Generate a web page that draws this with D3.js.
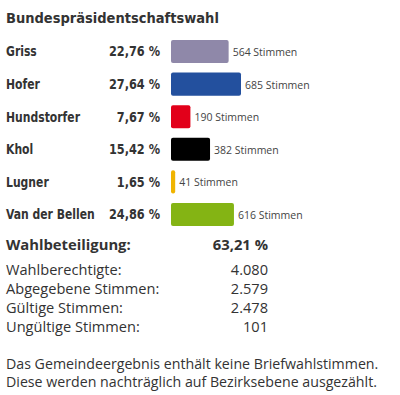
<!DOCTYPE html>
<html>
<head>
<meta charset="utf-8">
<script src="https://d3js.org/d3.v7.min.js"></script>
<style>
body { margin: 0; background: #fff; }
svg text { fill: #333; }
.cond { font-family: 'DejaVu Sans Condensed', 'DejaVu Sans', sans-serif; font-weight: bold; }
.reg { font-family: 'Open Sans', sans-serif; }
</style>
</head>
<body>
<svg width="400" height="395"></svg>
<script>
const candidates = ['Griss', 'Hofer', 'Hundstorfer', 'Khol', 'Lugner', 'Van der Bellen']
const percents = ['22,76 %', '27,64 %', '7,67 %', '15,42 %', '1,65 %', '24,86 %']
const votes = [564, 685, 190, 382, 41, 616]
const colors = ['#8f88a9', '#23509e', '#e2001a', '#000000', '#f0b400', '#84b414']

const statLabels = ['Wahlberechtigte:', 'Abgegebene Stimmen:', 'Gültige Stimmen:', 'Ungültige Stimmen:']
const statValues = ['4.080', '2.579', '2.478', '101']
const turnout = '63,21 %'
const notes = ['Das Gemeindeergebnis enthält keine Briefwahlstimmen.',
  'Diese werden nachträglich auf Bezirksebene ausgezählt.']

const svg = d3.select('svg')

svg.append('text').attr('class', 'cond')
  .attr('x', 6).attr('y', 23)
  .style('font-size', '14.5px')
  .text('Bundespräsidentschaftswahl')

const y = d3.scaleBand().domain(candidates).range([40, 226]).paddingInner(9 / 31).paddingOuter(0)
const x = d3.scaleLinear().domain([0, 685]).range([171, 241])

// names and percents squeezed a bit, the original font is narrower
const names = svg.append('g').attr('transform', 'translate(6,0) scale(0.86,1)')
names.selectAll('text').data(candidates).enter().append('text').attr('class', 'cond')
  .attr('x', 0).attr('y', d => y(d) + 16.5)
  .style('font-size', '14px')
  .text(d => d)

const pcts = svg.append('g').attr('transform', 'translate(160,0) scale(0.9,1)')
pcts.selectAll('text').data(candidates).enter().append('text').attr('class', 'cond')
  .attr('x', 0).attr('y', d => y(d) + 16.5)
  .attr('text-anchor', 'end')
  .style('font-size', '14px')
  .text((d, i) => percents[i])

const row = svg.append('g').selectAll('g').data(candidates).enter().append('g')

row.append('rect')
  .attr('x', x(0)).attr('y', d => y(d))
  .attr('width', (d, i) => x(votes[i]) - x(0))
  .attr('height', y.bandwidth())
  .attr('rx', 2)
  .attr('fill', (d, i) => colors[i])

row.append('text').attr('class', 'reg')
  .attr('x', (d, i) => x(votes[i]) + 4).attr('y', d => y(d) + 16)
  .style('font-size', '10.5px')
  .style('fill', '#444')
  .text((d, i) => votes[i] + ' Stimmen')

svg.append('text').attr('class', 'reg')
  .attr('x', 6).attr('y', 250)
  .style('font-size', '14.8px').style('font-weight', 'bold')
  .text('Wahlbeteiligung:')
svg.append('text').attr('class', 'reg')
  .attr('x', 268).attr('y', 250).attr('text-anchor', 'end')
  .style('font-size', '14.8px').style('font-weight', 'bold')
  .text(turnout)

const stats = svg.append('g').selectAll('g').data(statLabels).enter().append('g')
stats.append('text').attr('class', 'reg')
  .attr('x', 6).attr('y', (d, i) => 275 + i * 18.9)
  .style('font-size', '14.6px')
  .text(d => d)
stats.append('text').attr('class', 'reg')
  .attr('x', 268).attr('y', (d, i) => 275 + i * 18.9)
  .attr('text-anchor', 'end')
  .style('font-size', '14.6px')
  .text((d, i) => statValues[i])

svg.append('g').selectAll('text').data(notes).enter().append('text')
  .attr('class', 'reg')
  .attr('x', 6).attr('y', (d, i) => 369 + i * 17.7)
  .style('font-size', '14.2px')
  .text(d => d)
</script>
</body>
</html>
